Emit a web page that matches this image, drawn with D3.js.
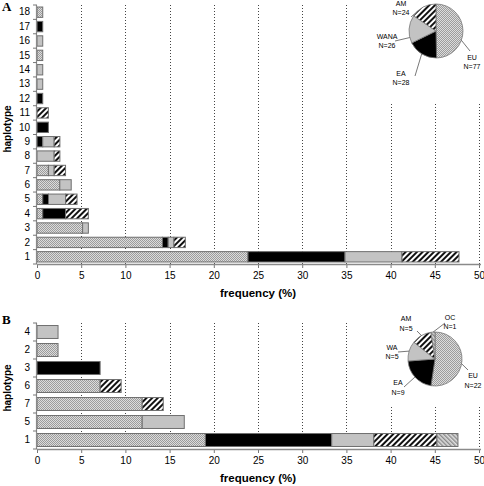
<!DOCTYPE html>
<html><head><meta charset="utf-8">
<script src="https://cdn.jsdelivr.net/npm/d3@7"></script>
<style>html,body{margin:0;padding:0;background:#fff}svg{display:block;font-family:"Liberation Sans",Arial,sans-serif}</style>
</head><body>
<svg id="c" width="484" height="486"></svg>
<script>
// ---------- data ----------
const groupsA = ["EU", "EA", "WANA", "AM"];
const haplotypesA = ["1","2","3","4","5","6","7","8","9","10","11","12","13","14","15","16","17","18"];
const EU_A   = [23.87, 14.19, 5.16, 0.65, 0.65, 2.58, 1.29, 0,    0,    0,    0,    0,    0,    0,    0.65, 0,    0,    0.65];
const EA_A   = [10.97, 0.65,  0,    2.58, 0.65, 0,    0,    0,    0.65, 1.29, 0,    0.65, 0,    0,    0,    0,    0.65, 0];
const WANA_A = [6.45,  0.65,  0.65, 0,    1.94, 1.29, 0.65, 1.94, 1.29, 0,    0,    0,    0.65, 0.65, 0,    0.65, 0,    0];
const AM_A   = [6.45,  1.29,  0,    2.58, 1.29, 0,    1.29, 0.65, 0.65, 0,    1.29, 0,    0,    0,    0,    0,    0,    0];
const pieCountsA = {EU: 77, EA: 28, WANA: 26, AM: 24};

const groupsB = ["EU", "EA", "WA", "AM", "OC"];
const haplotypesB = ["1","5","7","6","3","2","4"];
const EU_B = [19.05, 11.90, 11.90, 7.14, 0,    2.38, 0];
const EA_B = [14.29, 0,     0,     0,    7.14, 0,    0];
const WA_B = [4.76,  4.76,  0,     0,    0,    0,    2.38];
const AM_B = [7.14,  0,     2.38,  2.38, 0,    0,    0];
const OC_B = [2.38,  0,     0,     0,    0,    0,    0];
const pieCountsB = {EU: 22, EA: 9, WA: 5, AM: 5, OC: 1};

const xTicks = [0,5,10,15,20,25,30,35,40,45,50];
const xLabel = "frequency (%)";
const yLabel = "haplotype";

// ---------- styles ----------
const fills = {EU: "url(#pEU)", EA: "#000", WANA: "#c3c3c3", WA: "#c3c3c3", AM: "url(#pAM)", OC: "url(#pOC)"};

const svg = d3.select("#c");
const defs = svg.append("defs");
{
  const p = defs.append("pattern").attr("id","pEU").attr("patternUnits","userSpaceOnUse").attr("width",2).attr("height",2)
    .attr("shape-rendering","crispEdges");
  p.append("rect").attr("width",2).attr("height",2).attr("fill","#dcdcdc");
  [[0,0],[1,1]].forEach(([i,j]) => p.append("rect").attr("x",i).attr("y",j).attr("width",1).attr("height",1).attr("fill","#9c9c9c"));
  const a = defs.append("pattern").attr("id","pAM").attr("patternUnits","userSpaceOnUse").attr("width",4).attr("height",4).attr("patternTransform","rotate(45)");
  a.append("rect").attr("width",4).attr("height",4).attr("fill","#fff");
  a.append("rect").attr("width",2).attr("height",4).attr("fill","#111");
  const o = defs.append("pattern").attr("id","pOC").attr("patternUnits","userSpaceOnUse").attr("width",3).attr("height",3).attr("patternTransform","rotate(-45)");
  o.append("rect").attr("width",3).attr("height",3).attr("fill","#dedede");
  o.append("rect").attr("width",1.4).attr("height",3).attr("fill","#8a8a8a");
}

function panel(cfg) {
  const {top, bottom, left, right, cats, groups, series, letter, letterY, ylabY, pie} = cfg;
  const g = svg.append("g");
  const x = d3.scaleLinear().domain([0, 50]).range([left, right]);
  const y = d3.scaleBand().domain(cats).range([bottom, top]).paddingInner(0.28).paddingOuter(0.14);

  // gridlines
  g.append("g").selectAll("line").data(xTicks.filter(d => d > 0)).join("line")
    .attr("x1", d => Math.round(x(d)) + 0.5).attr("x2", d => Math.round(x(d)) + 0.5)
    .attr("y1", top).attr("y2", bottom)
    .attr("stroke", "#444").attr("stroke-width", 1).attr("stroke-dasharray", "1,2");

  // pie inset background
  g.append("rect").attr("x", pie.box[0]).attr("y", pie.box[1]).attr("width", pie.box[2]).attr("height", pie.box[3]).attr("fill", "#fff");

  // stacked bars
  const rows = cats.map((c, i) => { const r = {cat: c}; groups.forEach((k, j) => r[k] = series[j][i]); return r; });
  const stacked = d3.stack().keys(groups)(rows);
  g.append("g").selectAll("g").data(stacked).join("g")
    .attr("fill", d => fills[d.key])
    .selectAll("rect").data(d => d.filter(s => s[1] - s[0] > 0)).join("rect")
    .attr("x", d => x(d[0])).attr("width", d => x(d[1]) - x(d[0]))
    .attr("y", d => y(d.data.cat)).attr("height", y.bandwidth())
    .attr("stroke", "#6f6f6f").attr("stroke-width", 1);

  // x axis
  const xa = g.append("g").attr("transform", `translate(0,${bottom})`)
    .call(d3.axisBottom(x).tickValues(xTicks).tickSize(4).tickPadding(4).tickFormat(d3.format("d")));
  xa.select(".domain").remove();
  xa.selectAll(".tick line").attr("stroke", "#777");
  xa.selectAll("text").attr("font-size", 10).attr("fill", "#000").attr("font-family", "Liberation Sans, Arial");
  g.append("line").attr("x1", left).attr("x2", right + 2).attr("y1", bottom + 0.5).attr("y2", bottom + 0.5)
    .attr("stroke", "#8a8a8a").attr("stroke-width", 1.5);

  // y axis
  const ya = g.append("g").attr("transform", `translate(${left},0)`)
    .call(d3.axisLeft(y).tickSize(0).tickPadding(7));
  ya.select(".domain").remove();
  ya.selectAll("text").attr("font-size", 10).attr("fill", "#000").attr("font-family", "Liberation Sans, Arial");
  g.append("line").attr("x1", left - 0.5).attr("x2", left - 0.5).attr("y1", top).attr("y2", bottom)
    .attr("stroke", "#8a8a8a").attr("stroke-width", 1.2);
  const step = y.step();
  g.append("g").selectAll("line").data(d3.range(cats.length + 1)).join("line")
    .attr("x1", left - 4).attr("x2", left).attr("y1", i => bottom - i * step).attr("y2", i => bottom - i * step)
    .attr("stroke", "#777");

  // labels
  g.append("text").attr("x", (left + right) / 2).attr("y", bottom + 32.5).attr("text-anchor", "middle")
    .attr("font-weight", "bold").attr("font-size", 11.5).text(xLabel);
  g.append("text").attr("transform", `translate(11,${ylabY}) rotate(-90)`).attr("text-anchor", "middle")
    .attr("font-weight", "bold").attr("font-size", 10).text(yLabel);
  g.append("text").attr("x", 2).attr("y", letterY).attr("font-family", "Liberation Serif, Times New Roman, serif")
    .attr("font-weight", "bold").attr("font-size", 13).text(letter);

  // pie
  const pg = g.append("g").attr("transform", `translate(${pie.cx},${pie.cy})`);
  const pieData = d3.pie().sort(null).value(k => pie.counts[k])(Object.keys(pie.counts));
  const arc = d3.arc().innerRadius(0).outerRadius(pie.r);
  pg.selectAll("path").data(pieData).join("path").attr("d", arc)
    .attr("fill", d => fills[d.data]).attr("stroke", "#777").attr("stroke-width", 0.8);
  pie.labels.forEach(L => {
    const a = L.ang * Math.PI / 180;
    const ex = Math.sin(a) * pie.r, ey = -Math.cos(a) * pie.r;
    pg.append("line").attr("x1", ex).attr("y1", ey).attr("x2", L.le[0]).attr("y2", L.le[1])
      .attr("stroke", "#555").attr("stroke-width", 0.8);
    const t = pg.append("text").attr("text-anchor", "middle").attr("font-size", 7).attr("fill", "#000");
    t.append("tspan").attr("x", L.t[0]).attr("y", L.t[1]).text(L.key);
    t.append("tspan").attr("x", L.t[0]).attr("y", L.t[1] + 9.5).text("N=" + pie.counts[L.key]);
  });
}

panel({
  top: 5, bottom: 264, left: 37, right: 479,
  cats: haplotypesA, groups: groupsA, series: [EU_A, EA_A, WANA_A, AM_A],
  letter: "A", letterY: 11, ylabY: 129,
  pie: {cx: 436, cy: 31, r: 27, counts: pieCountsA, box: [372, 0, 112, 103],
    labels: [
      {key: "AM", ang: 318, le: [-25, -14], t: [-35, -25.5]},
      {key: "WANA", ang: 256, le: [-41, 10], t: [-49, 7.5]},
      {key: "EA", ang: 212, le: [-21, 45], t: [-35, 44.5]},
      {key: "EU", ang: 110, le: [34, 20], t: [36, 28.5]}
    ]}
});

panel({
  top: 323, bottom: 449, left: 37, right: 479,
  cats: haplotypesB, groups: groupsB, series: [EU_B, EA_B, WA_B, AM_B, OC_B],
  letter: "B", letterY: 324, ylabY: 388,
  pie: {cx: 435, cy: 359, r: 27, counts: pieCountsB, box: [372, 300, 112, 106],
    labels: [
      {key: "OC", ang: 356, le: [10, -36], t: [15, -39.5]},
      {key: "AM", ang: 330, le: [-18, -28], t: [-29, -38]},
      {key: "WA", ang: 287, le: [-37, -7], t: [-43, -9.5]},
      {key: "EA", ang: 228, le: [-31, 28], t: [-37, 26]},
      {key: "EU", ang: 100, le: [33, 11], t: [38, 19]}
    ]}
});
</script>
</body></html>
